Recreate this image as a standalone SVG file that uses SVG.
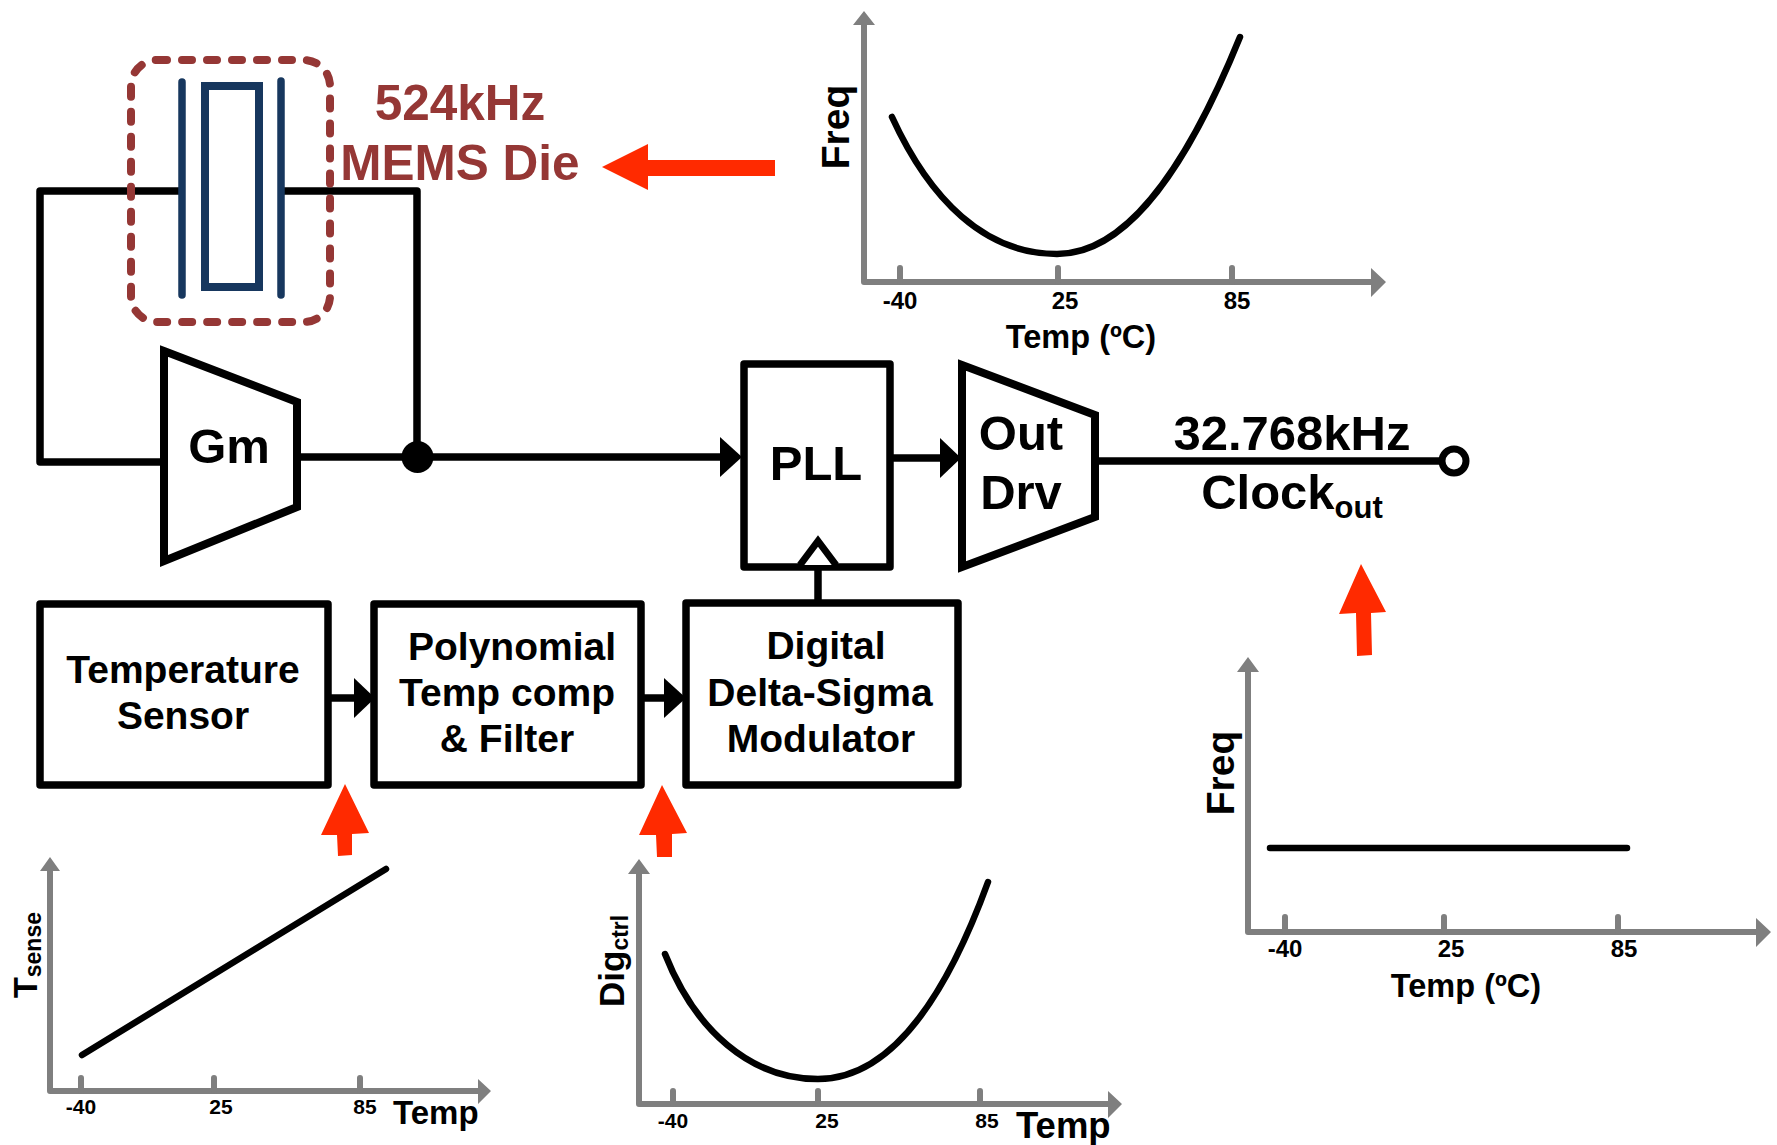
<svg xmlns="http://www.w3.org/2000/svg" width="1777" height="1145" viewBox="0 0 1777 1145">
<style>
text{font-family:"Liberation Sans",Arial,sans-serif;font-weight:700;fill:#000}
.m{text-anchor:middle}
.b{font-size:39px}
.h{font-size:49px}
.d{fill:#953735;font-size:49.5px;text-anchor:middle}
.t{font-size:24px;text-anchor:middle}
.t2{font-size:21px;text-anchor:middle}
.ax{font-size:32.5px;text-anchor:middle}
.box{fill:#fff;stroke:#000;stroke-width:7.5;stroke-linejoin:round}
.tr{fill:#fff;stroke:#000;stroke-width:8;stroke-linejoin:miter}
.w{fill:none;stroke:#000;stroke-width:7.5;stroke-linejoin:round}
.g{fill:none;stroke:#7f7f7f;stroke-width:6;stroke-linejoin:round}
.gs{fill:none;stroke:#7f7f7f;stroke-width:6;stroke-linecap:round}
.c{fill:none;stroke:#000;stroke-width:6.5;stroke-linecap:round}
.n{fill:none;stroke:#17375e;stroke-width:7.5;stroke-linecap:round}
.ga{fill:#7f7f7f}
.r{fill:#ff2a00}
.k{fill:#000}
</style>
<g id="connectors">
<path class="w" d="M162 462H40V191H181M281 191H417V457"/>
<path class="w" d="M298 457H725"/><path class="k" d="M720 437L742 457L720 477Z"/>
<path class="w" d="M890 458H942"/><path class="k" d="M940 438L961 458L940 478Z"/>
<path class="w" d="M1099 461H1440"/>
<path class="w" d="M818 567V603"/>
<path class="w" d="M329 698H358"/><path class="k" d="M354 678L375 698L354 718Z"/>
<path class="w" d="M641 698H668"/><path class="k" d="M664 678L686 698L664 718Z"/>
<circle class="k" cx="417.500" cy="457" r="16"/>
</g>
<g id="mems-die">
<rect x="131" y="60" width="199" height="262" rx="26" fill="none" stroke="#953735" stroke-width="8" stroke-dasharray="10 15" stroke-linecap="round"/>
<path class="n" d="M182 82V295M281 81V295"/>
<rect x="205" y="86" width="54" height="201" fill="none" stroke="#17375e" stroke-width="8"/>
<text class="d" x="460" y="120">524kHz</text>
<text class="d" x="460" y="180">MEMS Die</text>
</g>
<g id="gm">
<path class="tr" d="M164 351L297 402V507L164 561Z"/>
<text class="h m" x="229" y="463">Gm</text>
</g>
<g id="pll">
<rect class="box" x="744" y="364" width="146" height="203"/>
<path fill="#fff" stroke="#000" stroke-width="7" d="M800 565L818 541L836 565"/>
<text class="h m" x="816" y="480">PLL</text>
</g>
<g id="out-drv">
<path class="tr" d="M962 365L1095 415V517L962 567Z"/>
<text class="h m" x="1021" y="450">Out</text>
<text class="h m" x="1021" y="509">Drv</text>
</g>
<g id="clock-out">
<circle cx="1454" cy="461" r="12" fill="#fff" stroke="#000" stroke-width="7"/>
<text class="h m" x="1292" y="450">32.768kHz</text>
<text class="m" x="1292" y="509" font-size="49">Clock<tspan font-size="31" dy="9">out</tspan></text>
</g>
<g id="temperature-sensor">
<rect class="box" x="40" y="604" width="288" height="181"/>
<text class="b m" x="183" y="683">Temperature</text>
<text class="b m" x="183" y="729">Sensor</text>
</g>
<g id="polynomial">
<rect class="box" x="374" y="604" width="267" height="181"/>
<text class="b m" x="512" y="660">Polynomial</text>
<text class="b m" x="507" y="706">Temp comp</text>
<text class="b m" x="507" y="752">&amp; Filter</text>
</g>
<g id="modulator">
<rect class="box" x="686" y="603" width="272" height="182"/>
<text class="b m" x="826" y="659">Digital</text>
<text class="b m" x="820" y="706">Delta-Sigma</text>
<text class="b m" x="821" y="752">Modulator</text>
</g>
<g id="red-arrows">
<path class="r" d="M602 167L648 144V160H775V176H648V190Z"/>
<path class="r" d="M1361 564L1386 612L1371 613L1372 655L1357 656L1356 613L1339 614Z"/>
<path class="r" d="M345 784L369 833L352 834L352 855L338 856L337 835L321 835Z"/>
<path class="r" d="M662 785L687 833L672 834V857H657L656 835L639 835Z"/>
</g>
<g id="chart-freq-top">
<path class="g" d="M864 20V282H1375"/>
<path class="ga" d="M853 25L864 11L875 25ZM1371 268L1386 282L1371 297Z"/>
<path class="gs" d="M900 268V282M1058 268V282M1232 268V282"/>
<path class="c" d="M892 117C930 200 985 254 1057 254C1130 254 1190 160 1240 37"/>
<text class="t" x="900" y="309">-40</text><text class="t" x="1065" y="309">25</text><text class="t" x="1237" y="309">85</text>
<text class="ax" x="1081" y="348">Temp (ºC)</text>
<text class="m" font-size="39" transform="translate(849 127) rotate(-90)">Freq</text>
</g>
<g id="chart-freq-flat">
<path class="g" d="M1248 667V932H1760"/>
<path class="ga" d="M1237 672L1248 657L1259 672ZM1756 918L1771 932L1756 947Z"/>
<path class="gs" d="M1285 917V932M1444 917V932M1618 917V932"/>
<path class="c" d="M1270 848H1627"/>
<text class="t" x="1285" y="957">-40</text><text class="t" x="1451" y="957">25</text><text class="t" x="1624" y="957">85</text>
<text class="ax" x="1466" y="997">Temp (ºC)</text>
<text class="m" font-size="39" transform="translate(1234 773) rotate(-90)">Freq</text>
</g>
<g id="chart-tsense">
<path class="g" d="M50 865V1091H481"/>
<path class="ga" d="M40 871L50 857L60 871ZM478 1079L491 1091L478 1104Z"/>
<path class="gs" d="M81 1078V1091M214 1078V1091M360 1078V1091"/>
<path class="c" d="M82 1055L386 869"/>
<text class="t2" x="81" y="1114">-40</text><text class="t2" x="221" y="1114">25</text><text class="t2" x="365" y="1114">85</text>
<text font-size="33" x="393" y="1124">Temp</text>
<text font-size="34" transform="translate(37 998) rotate(-90)">T<tspan font-size="23" dy="4">sense</tspan></text>
</g>
<g id="chart-digctrl">
<path class="g" d="M639 868V1104H1113"/>
<path class="ga" d="M628 874L639 859L650 874ZM1108 1091L1122 1104L1108 1118Z"/>
<path class="gs" d="M673 1091V1104M818 1091V1104M980 1091V1104"/>
<path class="c" d="M665 954C695 1030 750 1079 818 1079C890 1079 945 1000 988 882"/>
<text class="t2" x="673" y="1128">-40</text><text class="t2" x="827" y="1128">25</text><text class="t2" x="987" y="1128">85</text>
<text font-size="36.500" x="1016" y="1138">Temp</text>
<text font-size="35" transform="translate(624 1007) rotate(-90)">Dig<tspan font-size="23" dy="4">ctrl</tspan></text>
</g>
</svg>
